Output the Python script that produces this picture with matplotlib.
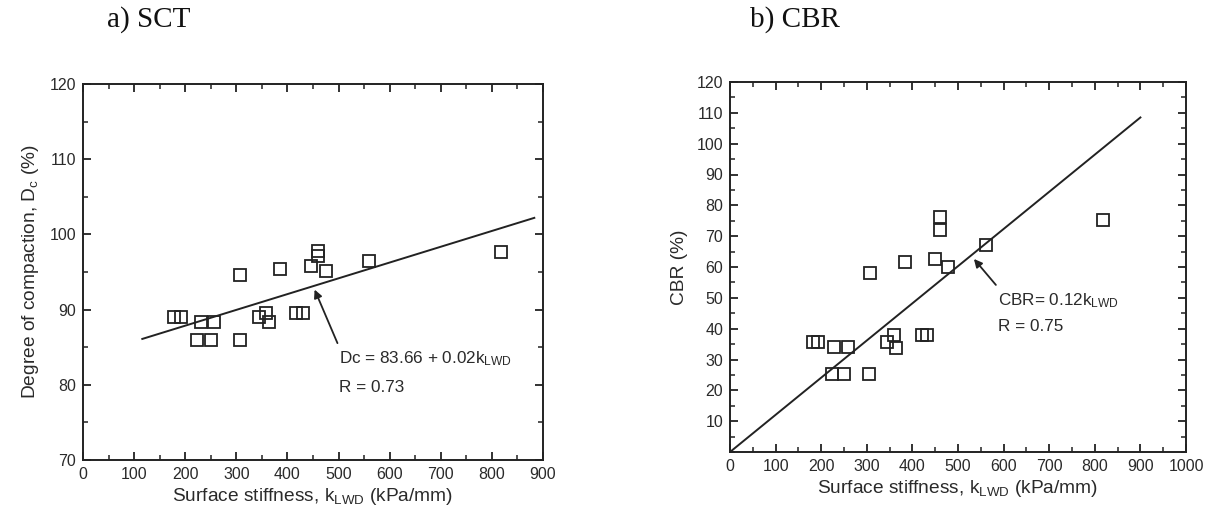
import numpy as np
import matplotlib
matplotlib.use("Agg")
import matplotlib.pyplot as plt
from matplotlib.ticker import MultipleLocator

#-- Data
# a) SCT : degree of compaction vs surface stiffness
sct_k = [179, 191, 230, 257, 223, 250, 308, 307, 385, 345, 358, 363, 416, 430, 447, 459, 459, 475, 560, 818]
sct_dc = [89.0, 89.0, 88.4, 88.4, 85.9, 85.9, 94.6, 85.9, 95.4, 89.0, 89.6, 88.4, 89.5, 89.5, 95.8, 97.8, 97.1, 95.1, 96.5, 97.7]
sct_fit_k = [116, 883]
sct_fit_dc = [86.1, 102.2]

# b) CBR : CBR vs surface stiffness
cbr_k = [181, 192, 229, 258, 224, 251, 307, 305, 384, 345, 360, 365, 420, 432, 450, 460, 460, 477, 561, 819]
cbr_val = [35.7, 35.7, 33.9, 33.9, 25.4, 25.4, 57.9, 25.4, 61.5, 35.7, 38.0, 33.7, 38.0, 38.0, 62.5, 76.1, 72.1, 60.0, 67.1, 75.1]
cbr_fit_k = [0, 900]
cbr_fit_val = [0, 108.5]

plt.rcParams['font.family'] = ['Liberation Sans', 'DejaVu Sans']
plt.rcParams['mathtext.fontset'] = 'custom'
plt.rcParams['mathtext.rm'] = 'Liberation Sans'
plt.rcParams['mathtext.it'] = 'Liberation Sans'
plt.rcParams['mathtext.bf'] = 'Liberation Sans'

txtc = '#2a2a2a'
W, H = 1205, 516

fig = plt.figure(figsize=(W/100, H/100), dpi=100)
ax1 = fig.add_axes([83/W, 1-460/H, (543-83)/W, (460-84)/H])
ax2 = fig.add_axes([730/W, 1-452/H, (1186-730)/W, (452-82)/H])

def style(ax):
    for s in ax.spines.values():
        s.set_linewidth(1.4)
        s.set_color('#222222')
    ax.tick_params(which='both', direction='in', top=True, right=True,
                   colors='#222222', labelcolor=txtc, labelsize=11.5, pad=5)
    ax.tick_params(which='major', length=6, width=1.3)
    ax.tick_params(which='minor', length=3.5, width=1.1)

xlab = r'Surface stiffness, k$_{\mathrm{LWD}}$ (kPa/mm)'

# -- left panel
ax1.plot(sct_k, sct_dc, 's', mfc='none', mec='#222222', ms=8, mew=1.3)
ax1.plot(sct_fit_k, sct_fit_dc, '-', color='#222222', lw=1.4)
ax1.set_xlim(0, 900)
ax1.set_ylim(70, 120)
ax1.xaxis.set_major_locator(MultipleLocator(100))
ax1.xaxis.set_minor_locator(MultipleLocator(50))
ax1.yaxis.set_major_locator(MultipleLocator(10))
ax1.yaxis.set_minor_locator(MultipleLocator(5))
style(ax1)
ax1.set_xlabel(xlab, fontsize=13.8, color=txtc, labelpad=3)
ax1.set_ylabel(r'Degree of compaction, D$_{\mathrm{c}}$ (%)', fontsize=13.8, color=txtc, labelpad=6)
ax1.annotate('', xy=(451, 93.0), xytext=(500, 85.2),
             arrowprops=dict(arrowstyle='-|>', color='#222222', lw=1.3, mutation_scale=12))
ax1.text(500, 83.5, r'Dc = 83.66 + 0.02k$_{\mathrm{LWD}}$', fontsize=12.3, color=txtc, va='center')
ax1.text(500, 79.7, 'R = 0.73', fontsize=12.3, color=txtc, va='center')

# -- right panel
ax2.plot(cbr_k, cbr_val, 's', mfc='none', mec='#222222', ms=8, mew=1.3)
ax2.plot(cbr_fit_k, cbr_fit_val, '-', color='#222222', lw=1.4)
ax2.set_xlim(0, 1000)
ax2.set_ylim(0, 120)
ax2.xaxis.set_major_locator(MultipleLocator(100))
ax2.xaxis.set_minor_locator(MultipleLocator(50))
ax2.set_yticks(np.arange(10, 121, 10))
ax2.yaxis.set_minor_locator(MultipleLocator(5))
style(ax2)
ax2.set_xlabel(xlab, fontsize=13.8, color=txtc, labelpad=3)
ax2.set_ylabel('CBR (%)', fontsize=13.8, color=txtc, labelpad=6)
ax2.annotate('', xy=(531, 63.3), xytext=(587, 53.5),
             arrowprops=dict(arrowstyle='-|>', color='#222222', lw=1.3, mutation_scale=12))
ax2.text(587, 49.2, r'CBR= 0.12k$_{\mathrm{LWD}}$', fontsize=12.3, color=txtc, va='center')
ax2.text(587, 40.6, 'R = 0.75', fontsize=12.3, color=txtc, va='center')

# panel titles
fig.text(107/W, 1-27/H, 'a) SCT', family='Liberation Serif', fontsize=21, color='#111111', va='baseline')
fig.text(750/W, 1-27/H, 'b) CBR', family='Liberation Serif', fontsize=21, color='#111111', va='baseline')

fig.savefig('out.png', dpi=100)
